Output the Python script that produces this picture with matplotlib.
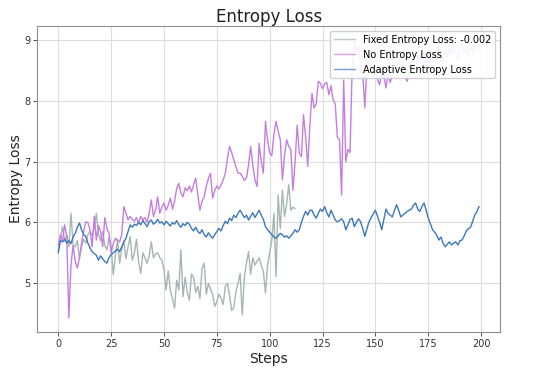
import matplotlib
matplotlib.use("Agg")
import matplotlib.pyplot as plt

## data
fixed_loss = [5.55, 5.75, 5.93, 5.70, 5.80, 5.60, 6.15, 5.62, 5.60, 5.70,
              5.41, 5.60, 5.72, 5.66, 5.80, 5.85, 5.78, 5.90, 6.15, 5.80,
              5.70, 5.85, 5.62, 5.55, 5.76, 5.60, 5.14, 5.45, 5.72, 5.33,
              5.55, 5.70, 5.40, 5.60, 5.77, 5.38, 5.50, 5.72, 5.35, 5.16,
              5.50, 5.42, 5.33, 5.45, 5.68, 5.42, 5.48, 5.50, 5.42, 5.38,
              5.22, 4.89, 5.20, 4.89, 4.75, 4.59, 5.05, 4.89, 5.55, 4.78,
              5.10, 4.85, 4.72, 5.15, 5.10, 4.85, 4.95, 4.75, 5.25, 5.33,
              4.82, 5.00, 4.90, 4.82, 4.62, 4.70, 4.82, 4.75, 4.65, 4.95,
              5.00, 4.80, 4.55, 4.60, 4.85, 5.00, 5.16, 4.48, 5.10, 5.33,
              5.52, 5.15, 5.42, 5.30, 5.36, 5.42, 5.30, 5.20, 4.84, 5.30,
              5.50, 5.71, 6.15, 5.11, 6.45, 5.90, 6.53, 6.10, 6.30, 6.62,
              6.20, 6.25, 6.23]

no_loss = [5.62, 5.80, 5.70, 5.96, 5.77, 4.43, 5.30, 5.62, 5.36, 5.25,
           5.42, 5.66, 5.85, 6.01, 6.00, 5.88, 5.60, 6.10, 5.71, 5.95,
           5.85, 5.60, 6.08, 5.90, 5.82, 5.50, 5.65, 5.74, 5.70, 5.68,
           5.80, 6.26, 6.15, 6.04, 6.10, 6.05, 6.02, 6.08, 5.99, 6.10,
           6.04, 6.08, 6.00, 6.15, 6.37, 6.10, 6.20, 6.42, 6.15, 6.25,
           6.32, 6.20, 6.28, 6.40, 6.22, 6.35, 6.56, 6.64, 6.48, 6.42,
           6.57, 6.52, 6.60, 6.50, 6.62, 6.73, 6.45, 6.20, 6.35, 6.42,
           6.60, 6.72, 6.81, 6.40, 6.52, 6.60, 6.55, 6.62, 6.70, 6.81,
           7.05, 7.25, 7.15, 7.03, 6.92, 6.81, 6.81, 6.76, 6.69, 6.73,
           6.95, 7.25, 6.95, 6.70, 6.59, 7.30, 7.00, 6.81, 7.66, 7.35,
           7.14, 7.10, 7.45, 7.66, 7.50, 7.36, 6.70, 7.10, 7.36, 7.25,
           7.20, 6.53, 7.00, 7.60, 7.14, 7.08, 7.77, 7.40, 6.92, 7.60,
           8.12, 7.88, 7.95, 8.32, 8.29, 8.20, 8.28, 8.30, 8.10, 8.25,
           8.01, 7.95, 7.40, 7.36, 6.45, 8.34, 7.00, 7.20, 7.15, 8.56,
           9.00, 8.80, 8.90, 8.60, 8.45, 7.88, 8.61, 8.70, 8.55, 8.40,
           8.50, 8.35, 8.26, 8.50, 8.40, 8.21, 8.45, 8.30, 8.42, 8.60,
           8.55, 8.70, 8.50, 8.62, 8.40, 8.32, 8.45, 8.60, 8.70, 8.55,
           8.78, 8.65, 8.80, 8.60, 8.75, 8.85, 8.70, 8.62, 8.80, 8.72,
           8.90, 8.75, 8.65, 8.82, 8.70, 8.88, 8.76, 8.92, 8.80, 8.70,
           8.85, 8.95, 8.78, 8.86, 8.72, 8.90, 8.80, 8.95, 8.85, 8.90]

adaptive_loss = [5.50, 5.70, 5.68, 5.72, 5.66, 5.70, 5.65, 5.76, 5.82, 5.92,
                 5.99, 5.88, 5.80, 5.77, 5.66, 5.58, 5.52, 5.49, 5.46, 5.38,
                 5.45, 5.40, 5.36, 5.33, 5.42, 5.47, 5.50, 5.53, 5.56, 5.52,
                 5.60, 5.68, 5.74, 5.85, 5.96, 5.92, 5.97, 5.95, 6.00, 5.96,
                 6.03, 5.98, 5.93, 6.01, 6.04, 5.97, 6.00, 6.05, 5.99, 6.01,
                 5.96, 6.02, 5.98, 5.94, 6.00, 5.97, 6.03, 5.96, 5.92, 5.98,
                 5.95, 6.00, 5.97, 5.90, 5.86, 5.92, 5.85, 5.82, 5.88, 5.80,
                 5.76, 5.83, 5.78, 5.74, 5.80, 5.85, 5.90, 5.86, 5.95, 6.02,
                 5.98, 6.07, 6.03, 6.12, 6.08, 6.15, 6.20, 6.14, 6.08, 6.12,
                 6.04, 6.10, 6.16, 6.08, 6.14, 6.20, 6.12, 6.05, 5.93, 5.88,
                 5.84, 5.80, 5.76, 5.74, 5.78, 5.82, 5.80, 5.76, 5.78, 5.74,
                 5.78, 5.82, 5.88, 5.84, 5.88, 6.00, 6.10, 6.18, 6.12, 6.20,
                 6.20, 6.12, 6.07, 6.15, 6.22, 6.18, 6.26, 6.16, 6.09, 6.20,
                 6.12, 6.04, 6.01, 6.03, 6.06, 6.01, 5.88, 5.96, 6.05, 6.07,
                 5.93, 6.00, 6.06, 6.01, 5.90, 5.77, 5.90, 6.01, 6.08, 6.14,
                 6.20, 6.10, 6.00, 5.88, 6.05, 6.22, 6.15, 6.12, 6.09, 6.20,
                 6.29, 6.20, 6.09, 6.12, 6.15, 6.18, 6.20, 6.22, 6.28, 6.32,
                 6.22, 6.18, 6.26, 6.32, 6.20, 6.07, 5.98, 5.88, 5.84, 5.79,
                 5.71, 5.76, 5.66, 5.60, 5.64, 5.68, 5.63, 5.66, 5.68, 5.63,
                 5.70, 5.71, 5.78, 5.86, 5.90, 5.92, 6.02, 6.12, 6.18, 6.26]

labels = ['Fixed Entropy Loss: -0.002', 'No Entropy Loss', 'Adaptive Entropy Loss']

## figure
fig = plt.figure(figsize=(5.4, 3.72), dpi=100)
ax = fig.add_axes([0.069, 0.108, 0.857, 0.822])

# plot the three runs
ax.plot(range(len(fixed_loss)), fixed_loss, color='#a6b6b4', lw=1.0, label=labels[0])
ax.plot(range(len(no_loss)), no_loss, color='#c57ee0', lw=1.0, label=labels[1])
ax.plot(range(len(adaptive_loss)), adaptive_loss, color='#3b78bb', lw=1.0, label=labels[2])

## settings
ax.grid(True, color='#dddddd', lw=0.8)
ax.set_axisbelow(True)
for s in ax.spines.values():
    s.set_color('#8f8f8f')
    s.set_linewidth(0.8)
ax.tick_params(labelsize=7, colors='#333333', length=3, width=0.6, pad=2)
ax.set_xticks([0, 25, 50, 75, 100, 125, 150, 175, 200])
ax.set_yticks([5, 6, 7, 8, 9])
ax.set_title('Entropy Loss', fontsize=12, color='#222222', pad=3)
ax.set_xlabel('Steps', fontsize=10, color='#222222', labelpad=2)
ax.set_ylabel('Entropy Loss', fontsize=10, color='#222222', labelpad=1)

leg = ax.legend(loc='upper right', fontsize=7, framealpha=0.9,
                edgecolor='#cccccc', fancybox=True, handlelength=2.2)
for h in leg.get_lines():
    h.set_alpha(0.7)

fig.savefig('out.png', dpi=100)
